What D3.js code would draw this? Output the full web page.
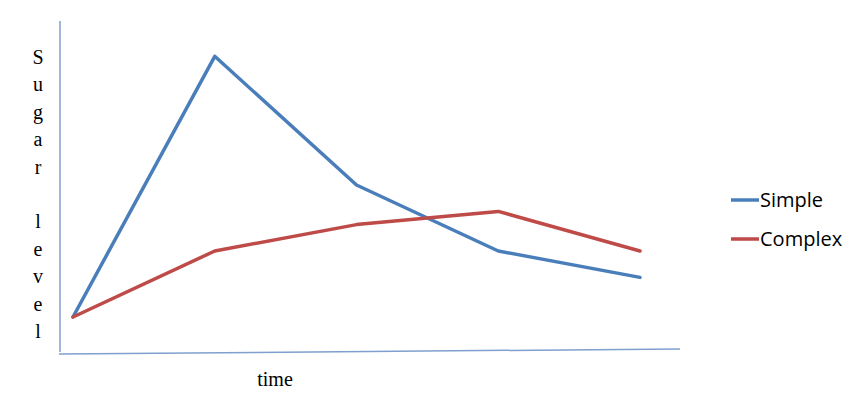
<!DOCTYPE html>
<html><head><meta charset="utf-8">
<script src="https://cdn.jsdelivr.net/npm/d3@7"></script>
<style>body{margin:0;background:#fff}svg{display:block}</style>
</head><body><svg id="c" width="855" height="420"></svg>
<script>
const categories = [1, 2, 3, 4, 5];
const simpleValues = [1.0, 8.9, 5.0, 3.0, 2.2];
const complexValues = [1.0, 3.0, 3.8, 4.2, 3.0];
const seriesNames = ["Simple", "Complex"];
const yLabelText = "Sugar level";
const xLabelText = "time";

const svg = d3.select("#c");
const x = d3.scalePoint().domain(categories).range([73, 640]);
const y = d3.scaleLinear().domain([0, 10]).range([350, 20]);
const colors = ["#4a7ebb", "#be4b48"];

// axes
svg.append("line").attr("x1", 60).attr("x2", 60).attr("y1", 21).attr("y2", 352)
  .attr("stroke", "#7f9fcf").attr("stroke-width", 1.5);
svg.append("line").attr("x1", 59).attr("x2", 680).attr("y1", 354).attr("y2", 349)
  .attr("stroke", "#7f9fcf").attr("stroke-width", 1.5);

const line = d3.line().x((d, i) => x(categories[i])).y(d => y(d));
[simpleValues, complexValues].forEach((vals, k) => {
  svg.append("path").attr("d", line(vals)).attr("fill", "none")
    .attr("stroke", colors[k]).attr("stroke-width", 3.5)
    .attr("stroke-linejoin", "round").attr("stroke-linecap", "round");
});

// y label stacked letters
const letters = yLabelText.split("");
svg.append("g").selectAll("text").data(letters).join("text")
  .attr("x", 38).attr("y", (d, i) => 64 + i * 27.4)
  .attr("text-anchor", "middle")
  .attr("font-family", "Liberation Serif, serif").attr("font-size", 20)
  .attr("fill", "#000").text(d => d);

svg.append("text").attr("x", 275).attr("y", 386).attr("text-anchor", "middle")
  .attr("font-family", "Liberation Serif, serif").attr("font-size", 20).text(xLabelText);

// legend
const lg = svg.append("g");
seriesNames.forEach((n, k) => {
  const yy = 200 + k * 39;
  lg.append("line").attr("x1", 731).attr("x2", 759).attr("y1", yy).attr("y2", yy)
    .attr("stroke", colors[k]).attr("stroke-width", 3.5);
  lg.append("text").attr("x", 760).attr("y", yy + 7)
    .attr("font-family", "Open Sans, sans-serif").attr("font-size", 20)
    .attr("fill", "#000").text(n);
});
</script></body></html>
